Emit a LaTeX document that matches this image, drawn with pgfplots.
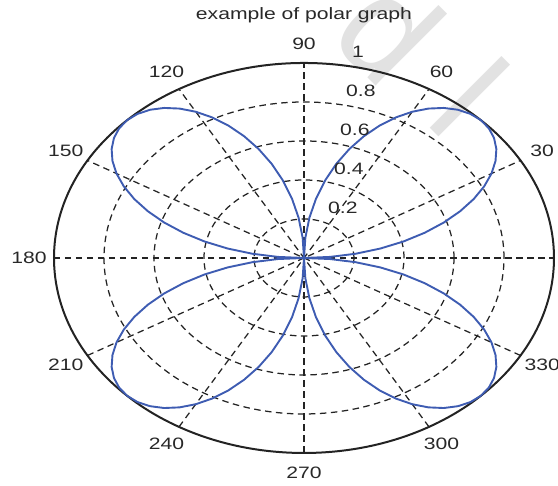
\documentclass[border=0pt]{standalone}
\usepackage{pgfplots}
\pgfplotsset{compat=1.18}
\usepackage{pgfplotstable}
\usepackage{fontspec}
\setmainfont{Liberation Sans}[FakeStretch=1.28]
\newfontfamily\wmfont{Liberation Sans}

\definecolor{roseblue}{RGB}{62,92,178}
\definecolor{gridgray}{RGB}{35,35,35}
\definecolor{labelgray}{RGB}{40,40,40}
\definecolor{wmgray}{RGB}{226,226,226}

% four-leaf rose: angle (deg) and radius
\pgfplotstableread[row sep=\\]{
theta r \\
0 0 \\ 3 0.1045 \\ 6 0.2079 \\ 9 0.3090 \\ 12 0.4067 \\ 15 0.5000 \\ 18 0.5878 \\ 21 0.6691 \\
24 0.7431 \\ 27 0.8090 \\ 30 0.8660 \\ 33 0.9135 \\ 36 0.9511 \\ 39 0.9781 \\ 42 0.9945 \\ 45 1.0000 \\
48 0.9945 \\ 51 0.9781 \\ 54 0.9511 \\ 57 0.9135 \\ 60 0.8660 \\ 63 0.8090 \\ 66 0.7431 \\ 69 0.6691 \\
72 0.5878 \\ 75 0.5000 \\ 78 0.4067 \\ 81 0.3090 \\ 84 0.2079 \\ 87 0.1045 \\ 90 0 \\
93 0.1045 \\ 96 0.2079 \\ 99 0.3090 \\ 102 0.4067 \\ 105 0.5000 \\ 108 0.5878 \\ 111 0.6691 \\
114 0.7431 \\ 117 0.8090 \\ 120 0.8660 \\ 123 0.9135 \\ 126 0.9511 \\ 129 0.9781 \\ 132 0.9945 \\ 135 1.0000 \\
138 0.9945 \\ 141 0.9781 \\ 144 0.9511 \\ 147 0.9135 \\ 150 0.8660 \\ 153 0.8090 \\ 156 0.7431 \\ 159 0.6691 \\
162 0.5878 \\ 165 0.5000 \\ 168 0.4067 \\ 171 0.3090 \\ 174 0.2079 \\ 177 0.1045 \\ 180 0 \\
183 0.1045 \\ 186 0.2079 \\ 189 0.3090 \\ 192 0.4067 \\ 195 0.5000 \\ 198 0.5878 \\ 201 0.6691 \\
204 0.7431 \\ 207 0.8090 \\ 210 0.8660 \\ 213 0.9135 \\ 216 0.9511 \\ 219 0.9781 \\ 222 0.9945 \\ 225 1.0000 \\
228 0.9945 \\ 231 0.9781 \\ 234 0.9511 \\ 237 0.9135 \\ 240 0.8660 \\ 243 0.8090 \\ 246 0.7431 \\ 249 0.6691 \\
252 0.5878 \\ 255 0.5000 \\ 258 0.4067 \\ 261 0.3090 \\ 264 0.2079 \\ 267 0.1045 \\ 270 0 \\
273 0.1045 \\ 276 0.2079 \\ 279 0.3090 \\ 282 0.4067 \\ 285 0.5000 \\ 288 0.5878 \\ 291 0.6691 \\
294 0.7431 \\ 297 0.8090 \\ 300 0.8660 \\ 303 0.9135 \\ 306 0.9511 \\ 309 0.9781 \\ 312 0.9945 \\ 315 1.0000 \\
318 0.9945 \\ 321 0.9781 \\ 324 0.9511 \\ 327 0.9135 \\ 330 0.8660 \\ 333 0.8090 \\ 336 0.7431 \\ 339 0.6691 \\
342 0.5878 \\ 345 0.5000 \\ 348 0.4067 \\ 351 0.3090 \\ 354 0.2079 \\ 357 0.1045 \\ 360 0 \\
}\rosedata

\begin{document}
\begin{tikzpicture}
\begin{axis}[
  hide axis,
  x=250pt, y=195pt,
  xmin=-1, xmax=1, ymin=-1, ymax=1,
  clip=false,
]
  % faint watermark letters behind the plot
  \node[text=wmgray, font=\wmfont\fontsize{140}{140}\selectfont, rotate=-45]
    at (axis cs:0.344,1.169) {d};
  \node[text=wmgray, font=\wmfont\fontsize{140}{140}\selectfont, rotate=-45]
    at (axis cs:0.664,0.826) {l};

  % dashed radial grid rings
  \begin{scope}[gridgray, line width=1.25pt, dash pattern=on 6.5pt off 4.5pt]
    \draw (axis cs:0,0) ellipse [x radius=50pt,  y radius=39pt];
    \draw (axis cs:0,0) ellipse [x radius=100pt, y radius=78pt];
    \draw (axis cs:0,0) ellipse [x radius=150pt, y radius=117pt];
    \draw (axis cs:0,0) ellipse [x radius=200pt, y radius=156pt];
    % spokes every 30 degrees
    \draw (axis cs:-1,0) -- (axis cs:1,0);
    \draw (axis cs:-0.8660,-0.5) -- (axis cs:0.8660,0.5);
    \draw (axis cs:-0.5,-0.8660) -- (axis cs:0.5,0.8660);
    \draw (axis cs:0,-1) -- (axis cs:0,1);
    \draw (axis cs:0.5,-0.8660) -- (axis cs:-0.5,0.8660);
    \draw (axis cs:0.8660,-0.5) -- (axis cs:-0.8660,0.5);
  \end{scope}
  % outer ring
  \draw[gridgray, line width=2pt] (axis cs:0,0) ellipse [x radius=250pt, y radius=195pt];

  % the rose curve
  \addplot[roseblue, line width=1.9pt, data cs=polar] table {\rosedata};

  % angle labels
  \begin{scope}[every node/.style={text=labelgray, font=\fontsize{16.5}{19}\selectfont}]
    \node at (axis cs:1.1,0) {0};
    \node at (axis cs:0.9526,0.55) {30};
    \node at (axis cs:0.55,0.9526) {60};
    \node at (axis cs:0,1.1) {90};
    \node at (axis cs:-0.55,0.9526) {120};
    \node at (axis cs:-0.9526,0.55) {150};
    \node at (axis cs:-1.1,0) {180};
    \node at (axis cs:-0.9526,-0.55) {210};
    \node at (axis cs:-0.55,-0.9526) {240};
    \node at (axis cs:0,-1.1) {270};
    \node at (axis cs:0.55,-0.9526) {300};
    \node at (axis cs:0.9526,-0.55) {330};
    % radius labels
    \node[anchor=west, inner sep=0pt] at (axis cs:0.096,0.256) {0.2};
    \node[anchor=west, inner sep=0pt] at (axis cs:0.120,0.456) {0.4};
    \node[anchor=west, inner sep=0pt] at (axis cs:0.144,0.656) {0.6};
    \node[anchor=west, inner sep=0pt] at (axis cs:0.168,0.856) {0.8};
    \node[anchor=west, inner sep=0pt] at (axis cs:0.192,1.056) {1};
    % title
    \node[anchor=base, inner sep=0pt] at (axis cs:0,1.2205) {example of polar graph};
  \end{scope}

  \coordinate (bbLL) at (axis cs:-1.216,-1.169);
  \coordinate (bbUR) at (axis cs:1.016,1.323);
\end{axis}
\pgfresetboundingbox
\path (bbLL) rectangle (bbUR);
\end{tikzpicture}
\end{document}
